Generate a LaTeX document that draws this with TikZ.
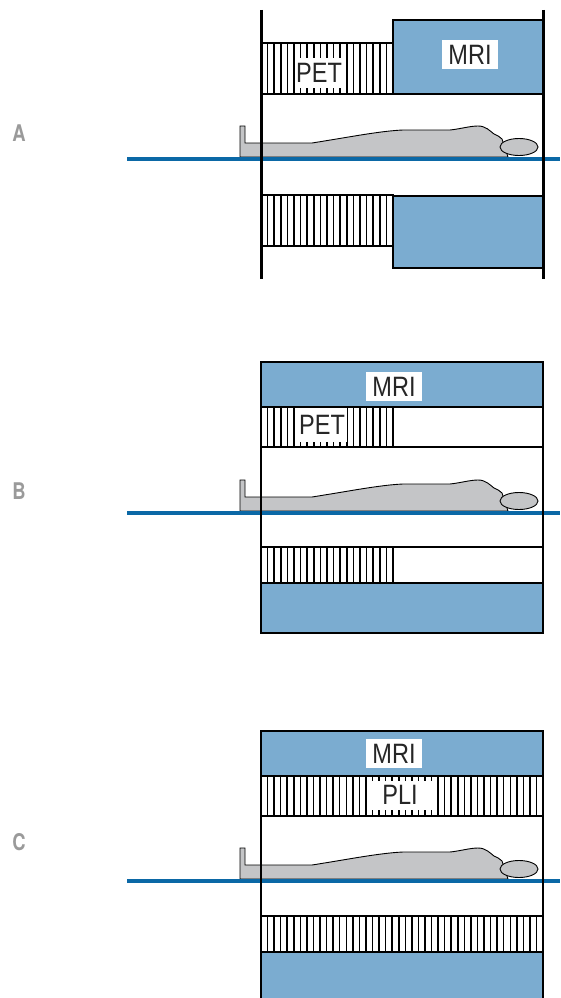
\documentclass[tikz,border=0pt]{standalone}
\usepackage{fontspec}
\setmainfont{Liberation Sans}
\newfontfamily\panelfont{TeX Gyre Heros}
\definecolor{mriblue}{HTML}{7BACD0}
\definecolor{bedblue}{HTML}{0B68A6}
\definecolor{bodygray}{HTML}{C4C5C7}
\definecolor{panelgray}{HTML}{9A9A9A}
% vertical detector stripes: #1 = left x, #2 = top y, #3 = bottom y, #4 = count, #5 = spacing
\newcommand\detstripes[5]{%
  \foreach \k in {1,...,#4}{\draw[stripe] ({#1+\k*#5},#2) -- ({#1+\k*#5},#3);}}
% patient lying on the table, placed on the bed line at height #1
\newcommand\patientat[1]{%
  \begin{scope}[shift={(0,#1)}]
    \draw[bodystyle] (240,-2) -- (240,-33) -- (245,-33) -- (245,-16) -- (312,-16)
      .. controls (350,-22) and (380,-28) .. (403,-29) -- (450,-29)
      .. controls (460,-30) and (470,-33) .. (478,-33)
      .. controls (486,-33) and (490,-28) .. (494,-25)
      .. controls (497,-23) and (500,-23) .. (502,-20) -- (508,-2) -- cycle;
    \draw[bodystyle] (519,-12) ellipse [x radius=19pt, y radius=8.5pt];
  \end{scope}}
\begin{document}
\begin{tikzpicture}[x=1pt,y=-1pt,
  mriblock/.style={fill=mriblue},
  outline/.style={draw=black, line width=2.5pt},
  wall/.style={draw=black, line width=3pt},
  stripe/.style={draw=black, line width=1.5pt},
  bodystyle/.style={fill=bodygray, draw=black, line width=0.9pt},
  bed/.style={draw=bedblue, line width=4.5pt},
  tag/.style={fill=white, inner sep=0pt, text=black!85, xscale=0.84,
    font=\fontsize{28}{28}\selectfont},
  panellabel/.style={text=panelgray, xscale=0.8,
    font=\panelfont\bfseries\fontsize{23}{23}\selectfont}]
\useasboundingbox (0,0) rectangle (560,998);

% ---------------- panel A: PET in front of the MRI ----------------
\fill[mriblock] (393,20) rectangle (543,94);
\fill[mriblock] (393,196) rectangle (543,268);
\detstripes{261}{43}{94}{19}{6.6}
\detstripes{261}{195}{246}{19}{6.6}
\node[tag, minimum width=57pt, minimum height=30pt] (petA) at (319,73) {PET};
\node[tag, minimum width=67pt, minimum height=29pt] (mriA) at (470,54.5) {MRI};
\patientat{159}
\draw[bed] (127,159) -- (560,159);
\draw[outline] (261,43) -- (393,43) -- (393,94) -- (261,94);
\draw[outline] (393,43) -- (393,20) -- (543,20) -- (543,94) -- (393,94);
\draw[outline] (261,195) -- (393,195) -- (393,246) -- (261,246);
\draw[outline] (393,246) -- (393,268) -- (543,268) -- (543,196) -- (393,196);
\draw[wall] (261,10) -- (261,279);
\draw[wall] (543,10) -- (543,279);
\node[panellabel] (labA) at (19,133.5) {A};

% ---------------- panel B: PET inside the MRI bore ----------------
\fill[mriblock] (261,362) rectangle (543,407);
\fill[mriblock] (261,583) rectangle (543,633);
\detstripes{261}{407}{447}{19}{6.6}
\detstripes{261}{547}{583}{19}{6.6}
\node[tag, minimum width=60pt, minimum height=34pt] (petB) at (322,425) {PET};
\node[tag, minimum width=67pt, minimum height=29pt] (mriB) at (394,386.5) {MRI};
\patientat{513}
\draw[bed] (127,513) -- (560,513);
\draw[outline] (261,407) -- (543,407);
\draw[outline] (261,447) -- (543,447);
\draw[outline] (261,547) -- (543,547);
\draw[outline] (261,583) -- (543,583);
\draw[outline] (393,407) -- (393,447);
\draw[outline] (393,547) -- (393,583);
\draw[outline] (261,362) rectangle (543,633);
\node[panellabel] (labB) at (19,491.5) {B};

% ---------------- panel C: PLI ring inside the MRI bore ----------------
\fill[mriblock] (261,731) rectangle (543,776);
\fill[mriblock] (261,952) rectangle (543,1005);
\detstripes{261}{776}{816}{42}{6.56}
\detstripes{261}{916}{952}{42}{6.56}
\draw[black, line width=2.2pt] (392,916) -- (392,952);
\node[tag, minimum width=77pt, minimum height=29pt] (pli) at (400,795) {PLI};
\node[tag, minimum width=67pt, minimum height=29pt] (mriC) at (394,753.5) {MRI};
\patientat{881}
\draw[bed] (127,881) -- (560,881);
\draw[outline] (261,776) -- (543,776);
\draw[outline] (261,816) -- (543,816);
\draw[outline] (261,916) -- (543,916);
\draw[outline] (261,952) -- (543,952);
\draw[outline] (261,1005) -- (261,731) -- (543,731) -- (543,1005);
\node[panellabel] (labC) at (19,842.5) {C};
\end{tikzpicture}
\end{document}
